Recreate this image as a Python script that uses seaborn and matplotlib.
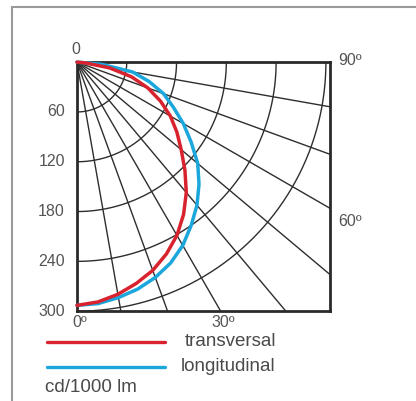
import numpy as np
import pandas as pd
import matplotlib
matplotlib.use("Agg")
import matplotlib.pyplot as plt
import seaborn as sns
from matplotlib.patches import Rectangle

# polar light distribution, angle from nadir (deg) -> cd/1000 lm
angles = [0, 5, 10, 15, 20, 25, 30, 35, 40, 45, 50, 55, 60, 65, 70, 75, 80, 85, 90]
transversal = [293, 290, 284, 276, 267, 255, 241, 224, 205, 184, 164, 147, 130, 111, 91, 68, 40, 10, 0]
longitudinal = [293, 292, 288, 283, 276, 267, 255, 240, 225, 208, 190, 168, 148, 128, 111, 90, 68, 30, 0]

radial_ticks = [60, 120, 180, 240, 300]
grid_angles = [10, 20, 30, 40, 50, 60, 70, 80]
angle_labels = {0: '0º', 30: '30º', 60: '60º', 90: '90º'}
series_names = ['transversal', 'longitudinal']
colors = ['#d8232e', '#1ba6dc']
unit_label = 'cd/1000 lm'

sns.set_style('white')
plt.rcParams['font.family'] = ['Liberation Sans', 'DejaVu Sans']

fig = plt.figure(figsize=(4.16, 4.01), dpi=100)
ax = fig.add_axes([0.185, 0.224, 0.608, 0.621])

xmax = 304.8
ymax = 300

# grid: arcs and rays (clipped by the axes box)
t = np.radians(np.linspace(0, 90, 200))
for r in radial_ticks:
    ax.plot(r * np.sin(t), r * np.cos(t), color='#2e2e2e', lw=1.0, zorder=1)
for a in grid_angles:
    ar = np.radians(a)
    ax.plot([0, 600 * np.sin(ar)], [0, 600 * np.cos(ar)], color='#2e2e2e', lw=1.0, zorder=1)

# curves
rows = []
for name, vals in zip(series_names, [transversal, longitudinal]):
    for a, v in zip(angles, vals):
        ar = np.radians(a)
        rows.append({'series': name, 'x': v * np.sin(ar), 'y': v * np.cos(ar), 'order': a})
df = pd.DataFrame(rows)
sns.lineplot(data=df, x='x', y='y', hue='series', hue_order=series_names[::-1],
             palette=dict(zip(series_names, colors)), sort=False, estimator=None,
             lw=2.5, legend=False, ax=ax, zorder=3, clip_on=False,
             solid_joinstyle='round', solid_capstyle='round')

ax.set_xlim(0, xmax)
ax.set_ylim(ymax, 0)
ax.set_xticks([])
ax.set_yticks([])
ax.set_xlabel('')
ax.set_ylabel('')
for s in ax.spines.values():
    s.set_visible(True)
    s.set_color('#2a2a2a')
    s.set_linewidth(2.0)

tc = '#555555'
fs = 11.5
# radial value labels on the left
ax.text(-1, -6, '0', ha='center', va='bottom', fontsize=fs, color=tc)
for r in radial_ticks:
    ax.annotate(str(r), (0, r), xytext=(-12, 0), textcoords='offset pixels',
                ha='right', va='center', fontsize=fs, color=tc, annotation_clip=False)

# angle labels
for a, lab in angle_labels.items():
    ar = np.radians(a)
    if a <= 30:
        ax.annotate(lab, (ymax * np.tan(ar), ymax), xytext=(3, -4), textcoords='offset pixels',
                    ha='center', va='top', fontsize=fs, color=tc, annotation_clip=False)
    elif a == 60:
        ax.annotate(lab, (xmax, xmax / np.tan(ar)), xytext=(8, -6), textcoords='offset pixels',
                    ha='left', va='top', fontsize=fs, color=tc, annotation_clip=False)
    else:
        ax.annotate(lab, (xmax, 0), xytext=(8, 2), textcoords='offset pixels',
                    ha='left', va='center', fontsize=fs, color=tc, annotation_clip=False)

# legend drawn by hand
lx0, lx1 = 47 / 416, 165 / 416
for i, (name, c) in enumerate(zip(series_names, colors)):
    y = 1 - (342 + 25 * i) / 401
    fig.add_artist(plt.Line2D([lx0, lx1], [y, y], color=c, lw=2.4, transform=fig.transFigure))
    fig.text((185 - 4 * i) / 416, y + 0.002, name, ha='left', va='center', fontsize=13.5, color='#4a4a4a')
fig.text(45 / 416, 1 - 388 / 401, unit_label, ha='left', va='center', fontsize=13.5, color='#4a4a4a')

# outer panel border
fig.add_artist(Rectangle((12 / 416, -0.1), 1.2, 1 - 7 / 401 + 0.1, transform=fig.transFigure,
                         fill=False, edgecolor='#9a9a9a', lw=1.5))

fig.savefig('out.png', dpi=100)
